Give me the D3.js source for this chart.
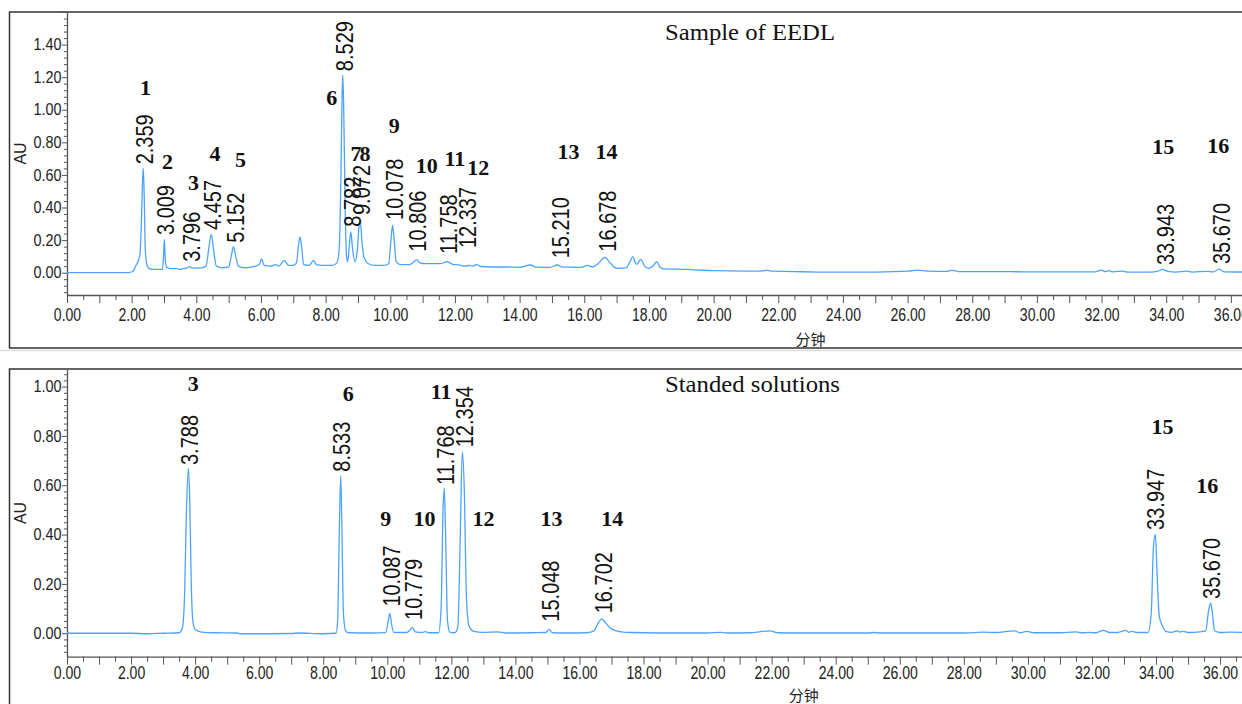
<!DOCTYPE html>
<html>
<head>
<meta charset="utf-8">
<script src="https://cdn.jsdelivr.net/npm/d3@7"></script>
<style>
  body { margin: 0; background: #fff; }
  svg { display: block; }
</style>
</head>
<body>
<svg id="chart" width="1242" height="704"></svg>
<script>
// ---- data (time in min, absorbance in AU) ----
var sampleTrace = [
  [0, 0], [1.9, 0.0], [2.05, 0.01], [2.12, 0.04], [2.2, 0.07], [2.26, 0.12], [2.3, 0.3], [2.34, 0.58],
  [2.36, 0.64], [2.39, 0.45], [2.42, 0.15], [2.47, 0.05], [2.55, 0.025], [2.7, 0.02], [2.95, 0.02],
  [2.98, 0.08], [3.01, 0.205], [3.04, 0.08], [3.08, 0.035], [3.2, 0.025], [3.4, 0.025], [3.5, 0.02],
  [3.6, 0.025], [3.72, 0.03], [3.8, 0.037], [3.88, 0.028], [4.0, 0.03], [4.1, 0.028], [4.3, 0.04],
  [4.38, 0.14], [4.46, 0.235], [4.54, 0.13], [4.62, 0.04], [4.8, 0.03], [5.0, 0.035], [5.08, 0.1],
  [5.15, 0.16], [5.22, 0.1], [5.3, 0.04], [5.5, 0.03], [5.8, 0.038], [5.95, 0.05], [6.02, 0.085],
  [6.1, 0.045], [6.3, 0.04], [6.45, 0.05], [6.55, 0.04], [6.72, 0.075], [6.85, 0.045], [7.0, 0.045],
  [7.1, 0.06], [7.16, 0.17], [7.21, 0.22], [7.26, 0.15], [7.32, 0.05], [7.5, 0.045], [7.62, 0.075],
  [7.72, 0.048], [7.9, 0.045], [8.2, 0.045], [8.35, 0.06], [8.42, 0.15], [8.47, 0.55], [8.51, 1.1],
  [8.53, 1.213], [8.56, 1.0], [8.6, 0.45], [8.64, 0.12], [8.68, 0.067], [8.73, 0.16], [8.78, 0.25],
  [8.83, 0.15], [8.91, 0.067], [8.98, 0.14], [9.04, 0.3], [9.07, 0.32], [9.12, 0.2], [9.18, 0.1],
  [9.25, 0.07], [9.32, 0.055], [9.5, 0.045], [9.8, 0.045], [9.95, 0.055], [10.02, 0.2], [10.07, 0.29],
  [10.12, 0.2], [10.18, 0.07], [10.3, 0.05], [10.6, 0.05], [10.72, 0.065], [10.82, 0.08], [10.92, 0.06],
  [11.1, 0.055], [11.3, 0.055], [11.55, 0.055], [11.76, 0.067], [11.95, 0.05], [12.1, 0.048], [12.3, 0.04],
  [12.45, 0.045], [12.55, 0.04], [12.67, 0.05], [12.8, 0.038], [13.2, 0.035], [13.6, 0.035], [14.0, 0.033],
  [14.34, 0.047], [14.5, 0.034], [14.9, 0.032], [15.18, 0.047], [15.3, 0.036], [15.6, 0.034], [15.9, 0.032],
  [16.1, 0.045], [16.25, 0.035], [16.45, 0.06], [16.64, 0.094], [16.8, 0.06], [17.0, 0.027], [17.3, 0.03],
  [17.42, 0.07], [17.5, 0.098], [17.58, 0.06], [17.62, 0.051], [17.75, 0.082], [17.85, 0.045], [17.98, 0.027],
  [18.12, 0.04], [18.24, 0.067], [18.34, 0.035], [18.44, 0.023], [18.8, 0.022], [19.2, 0.02], [19.6, 0.015],
  [20.0, 0.012], [21.0, 0.01], [21.5, 0.01], [21.64, 0.016], [21.8, 0.009], [22.5, 0.007], [23.2, 0.004],
  [24.0, 0.003], [25.0, 0.004], [26.0, 0.009], [26.33, 0.016], [26.6, 0.01], [27.2, 0.008], [27.37, 0.014],
  [27.6, 0.007], [28.5, 0.006], [29.2, 0.006], [30.0, 0.005], [31.0, 0.005], [31.8, 0.005], [32.0, 0.016],
  [32.12, 0.006], [32.23, 0.012], [32.35, 0.005], [32.66, 0.01], [32.8, 0.004], [33.5, 0.004], [33.75, 0.01],
  [33.89, 0.02], [34.05, 0.008], [34.3, 0.004], [34.63, 0.009], [34.8, 0.004], [35.26, 0.008], [35.45, 0.005],
  [35.64, 0.022], [35.8, 0.005], [36.5, 0.004], [37, 0.004]
];

var standardTrace = [
  [0, 0], [2.0, 0], [2.5, -0.002], [3.0, 0], [3.5, 0.002], [3.6, 0.02], [3.67, 0.15], [3.73, 0.5],
  [3.79, 0.669], [3.83, 0.55], [3.88, 0.2], [3.93, 0.05], [4.0, 0.015], [4.2, 0.005], [4.6, 0.002],
  [5.3, 0.001], [5.4, -0.002], [6.0, -0.002], [7.0, -0.001], [7.2, 0.001], [8.0, -0.002], [8.4, 0],
  [8.45, 0.05], [8.5, 0.4], [8.545, 0.639], [8.58, 0.45], [8.63, 0.08], [8.7, 0.01], [8.8, 0.002],
  [9.5, 0.001], [9.95, 0.003], [10.03, 0.05], [10.08, 0.081], [10.13, 0.04], [10.2, 0.004], [10.6, 0.003],
  [10.72, 0.015], [10.79, 0.023], [10.87, 0.006], [11.1, 0.003], [11.18, 0.007], [11.3, 0.002], [11.6, 0.002],
  [11.68, 0.1], [11.74, 0.5], [11.78, 0.588], [11.82, 0.4], [11.88, 0.05], [11.95, 0.005], [12.1, 0.002],
  [12.2, 0.02], [12.28, 0.4], [12.34, 0.736], [12.4, 0.6], [12.47, 0.15], [12.55, 0.03], [12.7, 0.008],
  [13.0, 0.004], [13.45, 0.006], [13.7, 0.001], [14.5, 0.002], [14.95, 0.003], [15.06, 0.016], [15.15, 0.002],
  [15.6, 0.001], [16.2, 0.002], [16.45, 0.01], [16.6, 0.045], [16.69, 0.058], [16.8, 0.045], [16.95, 0.022],
  [17.1, 0.012], [17.3, 0.006], [17.6, 0.003], [18.5, 0.001], [20.0, 0.001], [20.4, 0.004], [20.6, 0.001],
  [21.3, 0.002], [21.95, 0.01], [22.2, 0.002], [23.0, 0.001], [25.0, 0.001], [25.2, 0.003], [25.4, 0.001],
  [28.0, 0.001], [28.6, 0.005], [29.0, 0.003], [29.58, 0.01], [29.75, 0.002], [29.96, 0.008], [30.2, 0.002],
  [31.0, 0.002], [31.5, 0.006], [31.7, 0.002], [31.9, 0.004], [32.1, 0.002], [32.36, 0.012], [32.55, 0.003],
  [32.8, 0.003], [33.05, 0.012], [33.15, 0.004], [33.25, 0.008], [33.4, 0.003], [33.75, 0.003], [33.85, 0.08],
  [33.92, 0.35], [33.98, 0.401], [34.03, 0.25], [34.1, 0.07], [34.2, 0.03], [34.3, 0.008], [34.5, 0.004],
  [34.65, 0.01], [34.75, 0.005], [34.85, 0.008], [35.0, 0.003], [35.43, 0.007], [35.55, 0.01], [35.65, 0.1],
  [35.71, 0.122], [35.76, 0.08], [35.83, 0.01], [36.0, 0.003], [36.3, 0.005], [37, 0.002]
];

// retention time labels and the height (AU) where each label starts
var sampleRT = ["2.359", "3.009", "3.796", "4.457", "5.152", "8.529", "8.782", "9.072",
                "10.078", "10.806", "11.758", "12.337", "15.210", "16.678", "33.943", "35.670"];
var sampleRTBase = [0.665, 0.231, 0.067, 0.262, 0.184, 1.237, 0.282, 0.354,
                    0.324, 0.129, 0.115, 0.151, 0.088, 0.129, 0.047, 0.053];
var standardRT = ["3.788", "8.533", "10.087", "10.779", "11.768", "12.354", "15.048", "16.702", "33.947", "35.670"];
var standardRTBase = [0.682, 0.655, 0.108, 0.054, 0.601, 0.754, 0.047, 0.081, 0.419, 0.139];

// compound numbers (label, time, AU)
var sampleNo = ["1", "2", "3", "4", "5", "6", "7", "8", "9", "10", "11", "12", "13", "14", "15", "16"];
var sampleNoT = [2.43, 3.11, 3.91, 4.58, 5.37, 8.19, 8.94, 9.22, 10.12, 11.13, 12.0, 12.72, 15.51, 16.69, 33.91, 35.61];
var sampleNoAU = [1.135, 0.685, 0.555, 0.733, 0.696, 1.074, 0.733, 0.733, 0.902, 0.661, 0.702, 0.647, 0.742, 0.742, 0.773, 0.783];
var standardNo = ["3", "6", "9", "10", "11", "12", "13", "14", "15", "16"];
var standardNoT = [3.94, 8.78, 9.95, 11.16, 11.68, 13.0, 15.13, 17.02, 34.2, 35.6];
var standardNoAU = [1.013, 0.974, 0.467, 0.467, 0.979, 0.467, 0.467, 0.467, 0.84, 0.601];

var xTickLabels = ["0.00", "2.00", "4.00", "6.00", "8.00", "10.00", "12.00", "14.00", "16.00", "18.00",
                   "20.00", "22.00", "24.00", "26.00", "28.00", "30.00", "32.00", "34.00", "36.00"];
var sampleYTickLabels = ["0.00", "0.20", "0.40", "0.60", "0.80", "1.00", "1.20", "1.40"];
var standardYTickLabels = ["0.00", "0.20", "0.40", "0.60", "0.80", "1.00"];

var svg = d3.select("#chart");
var lineColor = "#4ca3ff";

svg.append("line").attr("x1", 0).attr("x2", 1242).attr("y1", 350.5).attr("y2", 350.5)
  .attr("stroke", "#ddd").attr("stroke-width", 1.5);

function nearMultiple(v, step) {
  var r = v / step;
  return Math.abs(r - Math.round(r)) < 1e-6;
}

function drawPanel(p) {
  var g = svg.append("g");

  g.append("rect")
    .attr("x", 9.5).attr("y", p.frameTop).attr("width", 1300).attr("height", p.frameH)
    .attr("fill", "none").attr("stroke", "#333").attr("stroke-width", 1.5);

  var x = d3.scaleLinear().domain([0, 37]).range([67, 67 + 37 * p.pxPerMin]);
  var y = d3.scaleLinear().domain(p.yDomain).range([p.axisY, p.plotTop]);

  // x axis, a tick every half minute, labels every 2 min
  var xLabels = {};
  xTickLabels.forEach(function(s) { xLabels[+s] = s; });
  var xAxis = d3.axisBottom(x)
    .tickValues(d3.range(0, 37.01, 0.5))
    .tickSize(5).tickSizeOuter(0).tickPadding(p.xPad)
    .tickFormat(function(v) { return xLabels[v] !== undefined ? xLabels[v] : ""; });
  var gx = g.append("g").attr("transform", "translate(0," + p.axisY + ")").call(xAxis);
  gx.selectAll(".tick line").attr("y2", function(v) { return nearMultiple(v, 1) ? 8 : 5; });

  // y axis with minor ticks
  var yLabels = {};
  p.yTickLabels.forEach(function(s) { yLabels[(+s).toFixed(2)] = s; });
  var yVals = d3.range(Math.ceil(p.yDomain[0] / p.yMinor) * p.yMinor, p.yDomain[1], p.yMinor);
  var yAxis = d3.axisLeft(y)
    .tickValues(yVals)
    .tickSize(3).tickSizeOuter(0).tickPadding(3)
    .tickFormat(function(v) {
      var k = v.toFixed(2);
      return nearMultiple(v, 0.2) && yLabels[k] !== undefined ? yLabels[k] : "";
    });
  var gy = g.append("g").attr("transform", "translate(67,0)").call(yAxis);
  gy.selectAll(".tick line").attr("x2", function(v) { return nearMultiple(v, 0.2) ? -5 : -3; });

  [gx, gy].forEach(function(a) {
    a.select(".domain").attr("stroke", "#555").attr("stroke-width", 1.3);
    a.selectAll(".tick line").attr("stroke", "#555");
  });
  gx.selectAll(".tick text")
    .attr("font-family", "'Liberation Sans', Arial, sans-serif").attr("font-size", 18)
    .attr("fill", "#222").attr("transform", "scale(0.78,1)");
  gy.selectAll(".tick text")
    .attr("font-family", "'Liberation Sans', Arial, sans-serif").attr("font-size", 16)
    .attr("fill", "#222").attr("transform", "scale(0.9,1)");

  // axis titles
  g.append("text")
    .attr("transform", "translate(20," + ((p.axisY + p.plotTop) / 2) + ") rotate(-90)")
    .attr("text-anchor", "middle").attr("dy", "0.35em")
    .attr("font-family", "'Liberation Sans', Arial, sans-serif").attr("font-size", 16)
    .attr("fill", "#222").text("AU");
  g.append("text")
    .attr("x", x(23)).attr("y", p.unitY)
    .attr("text-anchor", "middle").attr("dy", "0.35em")
    .attr("font-family", "'Noto Sans CJK SC', sans-serif").attr("font-size", 15)
    .attr("fill", "#222").text("分钟");

  // trace
  var line = d3.line()
    .x(function(d) { return x(d[0]); })
    .y(function(d) { return y(d[1]); })
    .curve(d3.curveMonotoneX);
  g.append("path").datum(p.trace)
    .attr("d", line).attr("fill", "none")
    .attr("stroke", lineColor).attr("stroke-width", 1.3);

  // retention time labels
  g.selectAll(".rt").data(p.rt).enter().append("text")
    .attr("class", "rt")
    .attr("transform", function(d, i) {
      return "translate(" + (x(+d) + 2) + "," + y(p.rtBase[i]) + ") rotate(-90) scale(1,1.15)";
    })
    .attr("dy", "0.35em")
    .attr("font-family", "'Liberation Sans', Arial, sans-serif").attr("font-size", 20)
    .attr("fill", "#111")
    .text(function(d) { return d; });

  // compound numbers
  g.selectAll(".no").data(p.no).enter().append("text")
    .attr("class", "no")
    .attr("x", function(d, i) { return x(p.noT[i]); })
    .attr("y", function(d, i) { return y(p.noAU[i]); })
    .attr("dy", "0.35em").attr("text-anchor", "middle")
    .attr("font-family", "'Liberation Serif', 'Times New Roman', serif")
    .attr("font-size", 22).attr("font-weight", "bold").attr("fill", "#111")
    .text(function(d) { return d; });

  // panel title
  g.append("text")
    .attr("x", 665).attr("y", p.titleY)
    .attr("font-family", "'Liberation Serif', 'Times New Roman', serif")
    .attr("font-size", 24).attr("fill", "#111")
    .attr("textLength", p.titleW).attr("lengthAdjust", "spacingAndGlyphs")
    .text(p.title);
}

drawPanel({
  frameTop: 12, frameH: 336, plotTop: 12, axisY: 295,
  yDomain: [-0.137, 1.6], yMinor: 0.04, yTickLabels: sampleYTickLabels,
  pxPerMin: 32.33, xPad: 8, unitY: 340,
  trace: sampleTrace, rt: sampleRT, rtBase: sampleRTBase,
  no: sampleNo, noT: sampleNoT, noAU: sampleNoAU,
  title: "Sample of EEDL", titleY: 40, titleW: 170
});

drawPanel({
  frameTop: 369, frameH: 400, plotTop: 369.3, axisY: 656.7,
  yDomain: [-0.095, 1.07], yMinor: 0.025, yTickLabels: standardYTickLabels,
  pxPerMin: 32.03, xPad: 5, unitY: 696,
  trace: standardTrace, rt: standardRT, rtBase: standardRTBase,
  no: standardNo, noT: standardNoT, noAU: standardNoAU,
  title: "Standed solutions", titleY: 392, titleW: 175
});
</script>
</body>
</html>
